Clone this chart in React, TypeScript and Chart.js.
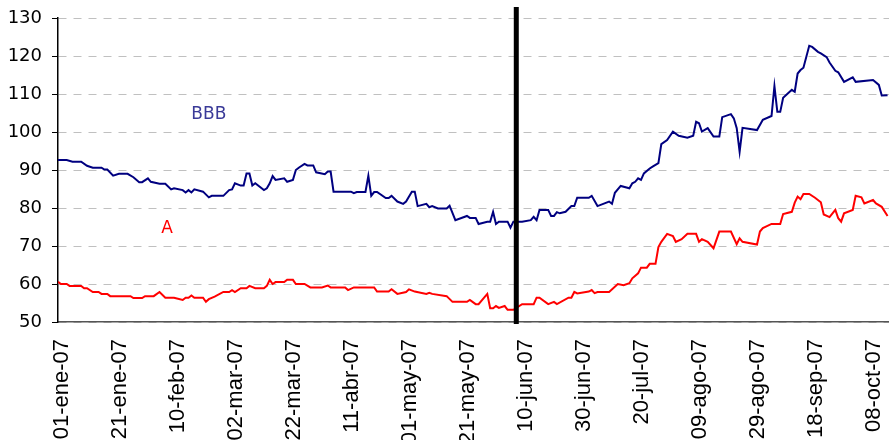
import React, { useEffect, useRef } from "react";
import { Chart, registerables } from "chart.js";

Chart.register(...registerables);

// Day index 0 = 01-ene-07
const tickDays = [0, 20, 40, 60, 80, 100, 120, 140, 160, 180, 200, 220, 240, 260, 280];
const tickLabels = [
  "01-ene-07", "21-ene-07", "10-feb-07", "02-mar-07", "22-mar-07", "11-abr-07", "01-may-07",
  "21-may-07", "10-jun-07", "30-jun-07", "20-jul-07", "09-ago-07", "29-ago-07", "18-sep-07", "08-oct-07",
];
const lastDay = 286.5;
const eventDay = 158;

const bbb: [number, number][] = [
  [0, 92.6], [3, 92.6], [5, 92.2], [8, 92.2], [10, 91.1], [12, 90.6], [15, 90.6], [16, 90.1], [17, 90.1],
  [19, 88.5], [21, 89.0], [24, 89.0], [26, 88.1], [28, 86.8], [29, 86.8], [31, 87.8], [32, 86.9], [35, 86.4],
  [37, 86.4], [39, 84.9], [40, 85.2], [43, 84.7], [44, 84.1], [45, 84.7], [46, 84.1], [47, 84.9], [50, 84.3],
  [52, 82.8], [53, 83.2], [57, 83.2], [59, 84.7], [60, 84.9], [61, 86.5], [63, 85.9], [64, 85.9], [65, 89.1],
  [66, 89.1], [67, 85.9], [68, 86.5], [71, 84.7], [72, 85.2], [73, 86.5], [74, 88.4], [75, 87.4], [78, 87.8],
  [79, 86.9], [81, 87.4], [82, 90.0], [83, 90.6], [85, 91.6], [86, 91.2], [88, 91.2], [89, 89.4], [92, 88.9],
  [93, 89.6], [94, 89.6], [95, 84.3], [101, 84.3], [102, 83.9], [103, 84.2], [106, 84.2], [107, 88.5],
  [108, 83.2], [109, 84.2], [110, 84.2], [113, 82.6], [114, 82.6], [115, 83.2], [117, 81.7], [119, 81.1],
  [120, 81.7], [122, 84.3], [123, 84.3], [124, 80.5], [127, 81.1], [128, 80.2], [129, 80.5], [131, 79.9],
  [134, 79.9], [135, 80.6], [137, 76.8], [141, 77.9], [142, 77.4], [144, 77.4], [145, 75.8], [148, 76.4],
  [149, 76.4], [150, 79.0], [151, 75.8], [152, 76.4], [155, 76.4], [156, 74.8], [157, 76.4], [160, 76.4],
  [163, 76.8], [164, 77.7], [165, 76.8], [166, 79.5], [169, 79.5], [170, 77.9], [171, 77.9], [172, 78.9],
  [173, 78.6], [175, 79.0], [177, 80.5], [178, 80.5], [179, 82.7], [183, 82.7], [184, 83.2], [186, 80.5],
  [190, 81.7], [191, 81.1], [192, 84.0], [194, 85.8], [197, 85.2], [198, 86.5], [199, 86.9], [200, 87.8],
  [201, 87.4], [202, 89.1], [204, 90.4], [205, 90.9], [207, 91.8], [208, 96.8], [210, 97.9], [212, 100.1],
  [214, 99.0], [217, 98.5], [219, 99.0], [220, 102.7], [221, 102.3], [222, 100.1], [224, 101.0], [226, 98.8],
  [228, 98.8], [229, 103.9], [232, 104.7], [233, 103.6], [234, 101.0], [235, 94.8], [236, 101.1], [241, 100.5],
  [243, 103.2], [246, 104.2], [247, 112.1], [248, 105.3], [249, 105.3], [250, 109.0], [253, 111.1],
  [254, 110.6], [255, 115.4], [256, 116.3], [257, 116.9], [259, 122.7], [260, 122.4], [262, 121.1],
  [263, 120.7], [265, 119.7], [266, 118.3], [268, 116.1], [269, 115.7], [271, 113.2], [274, 114.4],
  [275, 113.2], [281, 113.7], [283, 112.4], [284, 109.6], [286, 109.7],
];

const ratingA: [number, number][] = [
  [0, 60.6], [1, 60.0], [3, 60.0], [4, 59.5], [8, 59.5], [9, 58.9], [10, 58.9], [12, 57.9], [14, 57.9],
  [15, 57.4], [17, 57.4], [18, 56.8], [25, 56.8], [26, 56.3], [29, 56.3], [30, 56.8], [33, 56.8], [35, 57.9],
  [37, 56.4], [40, 56.4], [43, 55.8], [44, 56.4], [45, 56.4], [46, 57.0], [47, 56.4], [50, 56.4], [51, 55.3],
  [52, 56.0], [54, 56.7], [57, 57.9], [59, 57.9], [60, 58.4], [61, 57.9], [63, 58.9], [65, 58.9], [66, 59.5],
  [68, 58.9], [71, 58.9], [72, 59.5], [73, 61.1], [74, 60.0], [75, 60.5], [78, 60.5], [79, 61.1], [81, 61.1],
  [82, 60.0], [85, 60.0], [87, 59.1], [91, 59.1], [93, 59.6], [94, 59.1], [99, 59.1], [100, 58.4], [102, 59.1],
  [109, 59.1], [110, 58.0], [114, 58.0], [115, 58.6], [117, 57.4], [120, 57.9], [121, 58.6], [123, 58.0],
  [127, 57.4], [128, 57.7], [129, 57.4], [134, 56.8], [136, 55.3], [141, 55.3], [142, 55.8], [144, 54.7],
  [145, 54.7], [148, 57.4], [149, 53.6], [150, 53.6], [151, 54.2], [152, 53.7], [154, 54.2], [155, 53.2],
  [157, 53.2], [160, 54.7], [164, 54.7], [165, 56.4], [166, 56.4], [169, 54.7], [171, 55.3], [172, 54.7],
  [176, 56.4], [177, 56.4], [178, 57.9], [179, 57.5], [183, 58.0], [184, 58.4], [185, 57.6], [186, 57.9],
  [190, 57.9], [193, 60.0], [195, 59.7], [197, 60.2], [198, 61.5], [200, 62.8], [201, 64.3], [203, 64.3],
  [204, 65.3], [206, 65.3], [207, 69.7], [208, 71.1], [210, 73.2], [212, 72.6], [213, 71.1], [215, 71.8],
  [217, 73.2], [220, 73.2], [221, 71.1], [222, 71.8], [224, 71.1], [226, 69.4], [228, 73.8], [232, 73.8],
  [234, 70.5], [235, 72.0], [236, 71.1], [241, 70.4], [242, 73.8], [243, 74.7], [246, 75.8], [249, 75.8],
  [250, 78.4], [253, 79.0], [254, 81.4], [255, 83.0], [256, 82.3], [257, 83.7], [259, 83.7], [261, 82.7],
  [263, 81.5], [264, 78.3], [266, 77.6], [268, 79.5], [269, 77.3], [270, 76.4], [271, 78.6], [274, 79.5],
  [275, 83.2], [277, 82.8], [278, 81.2], [281, 82.1], [282, 81.2], [284, 80.3], [286, 77.9],
];

const seriesLabels = [
  { text: "BBB", day: 52, value: 104.5, color: "#3a3a98" },
  { text: "A", day: 37.6, value: 74.5, color: "#ff0000" },
];

const overlayPlugin = {
  id: "overlay",
  afterDatasetsDraw(chart: any) {
    const { ctx, chartArea, scales } = chart;
    const xs = scales.x;
    const ys = scales.y;
    ctx.save();
    // vertical event bar
    const ex = xs.getPixelForValue(eventDay);
    ctx.strokeStyle = "#000000";
    ctx.lineWidth = 5;
    ctx.beginPath();
    ctx.moveTo(ex, chartArea.top - 11);
    ctx.lineTo(ex, chartArea.bottom + 2);
    ctx.stroke();
    // series labels
    ctx.font = "17px 'DejaVu Sans'";
    ctx.textAlign = "center";
    ctx.textBaseline = "middle";
    for (const l of seriesLabels) {
      ctx.fillStyle = l.color;
      ctx.fillText(l.text, xs.getPixelForValue(l.day), ys.getPixelForValue(l.value));
    }
    ctx.restore();
  },
};

export default function App() {
  const ref = useRef<HTMLCanvasElement | null>(null);
  useEffect(() => {
    if (!ref.current) return;
    const chart = new Chart(ref.current, {
      type: "line",
      data: {
        datasets: [
          {
            label: "BBB",
            data: bbb.map(([x, y]) => ({ x, y })),
            borderColor: "#000080",
            borderWidth: 2,
            pointRadius: 0,
            tension: 0,
          },
          {
            label: "A",
            data: ratingA.map(([x, y]) => ({ x, y })),
            borderColor: "#ff0000",
            borderWidth: 2,
            pointRadius: 0,
            tension: 0,
          },
        ],
      },
      options: {
        animation: false,
        responsive: false,
        devicePixelRatio: 1,
        layout: { padding: { top: 18, left: 0, right: 0, bottom: 0 } },
        plugins: { legend: { display: false }, tooltip: { enabled: false } },
        scales: {
          x: {
            type: "linear",
            min: 0,
            max: lastDay,
            afterBuildTicks: (scale: any) => {
              scale.ticks = tickDays.map((v) => ({ value: v }));
            },
            afterFit: (scale: any) => {
              scale.height = 118;
              scale.paddingLeft = 0;
              scale.paddingRight = 0;
            },
            grid: { display: false, drawTicks: false },
            border: { display: true, color: "#555555", width: 1.5 },
            ticks: {
              autoSkip: false,
              minRotation: 90,
              maxRotation: 90,
              padding: 17,
              labelOffset: 4,
              color: "#000000",
              font: { family: "'Liberation Sans', Arial, sans-serif", size: 22 },
              callback: (value: any) => {
                const i = tickDays.indexOf(Number(value));
                return i >= 0 ? tickLabels[i] : "";
              },
            },
          },
          y: {
            min: 50,
            max: 130,
            afterFit: (scale: any) => {
              scale.width = 58;
              scale.paddingTop = 0;
              scale.paddingBottom = 0;
            },
            grid: {
              color: "#c0c0c0",
              lineWidth: 1,
              tickColor: "#000000",
              tickLength: 6,
            },
            border: { display: true, color: "#000000", width: 1.5, dash: [8, 7] },
            ticks: {
              stepSize: 10,
              padding: 10,
              color: "#000000",
              font: { family: "'DejaVu Sans', Verdana, sans-serif", size: 18 },
            },
          },
        },
      },
      plugins: [overlayPlugin],
    } as any);
    return () => chart.destroy();
  }, []);
  return (
    <div style={{ position: "fixed", left: 0, top: 0, width: 889, height: 440, background: "#fff" }}>
      <canvas ref={ref} width={889} height={440} style={{ display: "block" }} />
    </div>
  );
}
